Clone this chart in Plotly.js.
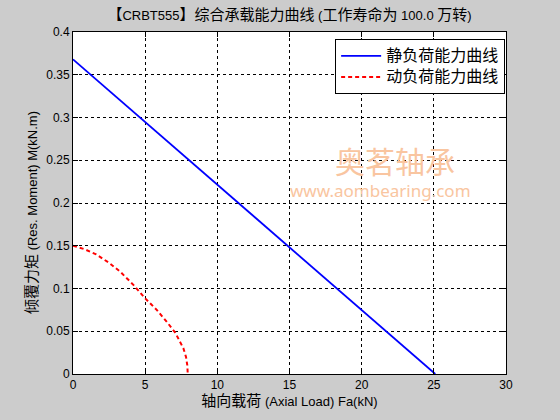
<!DOCTYPE html>
<html>
<head>
<meta charset="utf-8">
<script src="https://cdn.plot.ly/plotly-3.0.1.min.js"></script>
<style>html,body{margin:0;padding:0;background:#cccccc;}#chart{width:560px;height:420px;}</style>
</head>
<body>
<div id="chart"></div>
<script>
// Static load capacity curve
var staticX = [0, 25.1];
var staticY = [0.368, 0];
// Dynamic load capacity curve
var dynamicX = [0, 0.8, 1.6, 2.5, 3.25, 4.2, 5.0, 5.8, 6.5, 7.1, 7.4, 7.65, 7.83, 7.92, 7.95];
var dynamicY = [0.15, 0.146, 0.140, 0.130, 0.120, 0.104, 0.0885, 0.075, 0.061, 0.048, 0.038, 0.030, 0.020, 0.010, 0];
var seriesNames = ['静负荷能力曲线', '动负荷能力曲线'];
var xTicks = [0, 5, 10, 15, 20, 25, 30];
var yTicks = [0, 0.05, 0.1, 0.15, 0.2, 0.25, 0.3, 0.35, 0.4];
var yTickText = ['0', '0.05', '0.1', '0.15', '0.2', '0.25', '0.3', '0.35', '0.4'];
var titleText = '【CRBT555】综合承载能力曲线 (工作寿命为 100.0 万转)';
var xLabel = '轴向载荷 (Axial Load) Fa(kN)';
var yLabel = '倾覆力矩 (Res. Moment) M(kN.m)';
var watermark1 = '奥茗轴承';
var watermark2 = 'www.aombearing.com';

var FONT = 'Liberation Sans, Arial, Noto Sans CJK SC, sans-serif';

function cjk(s, size) {
  return s.replace(/[\u3000-\u303f\u4e00-\u9fff\uff00-\uffef]+/g, function (m) {
    return '<span style="font-size:' + size + 'px">' + m + '</span>';
  });
}

var traces = [
  {x: staticX, y: staticY, mode: 'lines', name: cjk(seriesNames[0], 16),
   line: {color: '#0000ff', width: 1.8}},
  {x: dynamicX, y: dynamicY, mode: 'lines', name: cjk(seriesNames[1], 16),
   line: {color: '#ff0000', width: 2, dash: '4px,3px'}}
];

var axisCommon = {
  showline: true, linecolor: '#000', linewidth: 1, mirror: 'allticks',
  ticks: 'inside', ticklen: 5, tickcolor: '#000',
  showgrid: true, gridcolor: '#000', gridwidth: 1, griddash: '3px,3px',
  zeroline: false, tickfont: {family: FONT, size: 12, color: '#000'}
};

var layout = {
  width: 560, height: 420,
  paper_bgcolor: '#cccccc', plot_bgcolor: '#ffffff',
  margin: {l: 73, r: 54, t: 32, b: 46},
  title: {text: cjk(titleText, 15),
          font: {family: FONT, size: 13, color: '#000'},
          xref: 'paper', x: 0.5, xanchor: 'center', y: 0.963, yanchor: 'middle'},
  xaxis: Object.assign({}, axisCommon, {
    range: [0, 30], tickvals: xTicks, ticktext: xTicks.map(String),
    title: {text: cjk(xLabel, 15), font: {family: FONT, size: 13, color: '#000'}, standoff: 4}
  }),
  yaxis: Object.assign({}, axisCommon, {
    range: [0, 0.4], tickvals: yTicks, ticktext: yTickText
  }),
  showlegend: true,
  legend: {x: 0.998, xanchor: 'right', y: 0.979, yanchor: 'top',
           bgcolor: '#ffffff', bordercolor: '#000', borderwidth: 1,
           itemwidth: 40,
           font: {family: FONT, size: 14, color: '#000'}, tracegroupgap: 0},
  annotations: [
    {text: cjk(yLabel, 15), xref: 'paper', yref: 'paper', x: 0, xshift: -41,
     y: (374 - 213) / 342, textangle: -90, xanchor: 'center', yanchor: 'middle',
     showarrow: false, font: {family: FONT, size: 13, color: '#000'}},
    {text: watermark1, xref: 'paper', yref: 'paper', x: (395-73)/433, y: (374-160)/342,
     xanchor: 'center', yanchor: 'middle',
     showarrow: false, font: {family: 'Noto Sans CJK SC', size: 30, color: '#f9c5a0'}},
    {text: watermark2, xref: 'paper', yref: 'paper', x: (380-73)/433, y: (374-190)/342,
     xanchor: 'center', yanchor: 'middle',
     showarrow: false, font: {family: 'Noto Sans, DejaVu Sans, sans-serif', size: 17, color: '#f9c5a0'}}
  ]
};

Plotly.newPlot('chart', traces, layout, {displayModeBar: false, staticPlot: true});
</script>
</body>
</html>
